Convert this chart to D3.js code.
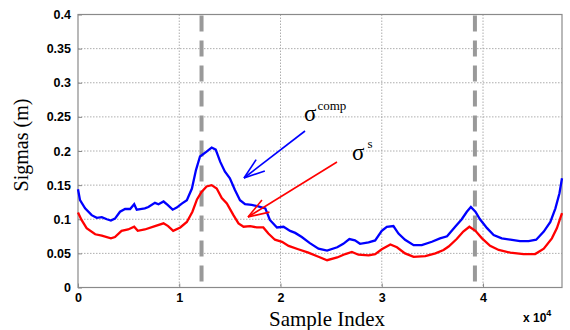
<!DOCTYPE html>
<html lang="en">
<head>
<meta charset="UTF-8">
<title>Sigmas</title>
<script src="https://cdn.jsdelivr.net/npm/d3@7"></script>
<style>
  body { margin: 0; background: #fff; }
  .tick text { font-family: "Liberation Sans", Arial, sans-serif; font-weight: bold; font-size: 12.5px; fill: #000; }
  .lbl { font-family: "Liberation Serif", "Times New Roman", serif; fill: #000; }
</style>
</head>
<body>
<script>
// sample indices + sigma values
var compIdx = [0, 200, 700, 1350, 1850, 2350, 2850, 3250, 3650, 4150, 4650, 5150, 5550, 5800, 6150, 6600, 6950, 7600, 7950, 8450, 8850, 9350, 9750, 10250, 10750, 11250, 11650, 12050, 12700, 13200, 13600, 14050, 14500, 15000, 15500, 16000, 16500, 17150, 17800, 18500, 18950, 19650, 20300, 20950, 21450, 22100, 22900, 23750, 24600, 25600, 26200, 26800, 27350, 27850, 28700, 29350, 30000, 30500, 31150, 31650, 32300, 33150, 33950, 34950, 35750, 36450, 37250, 37900, 38400, 38800, 39250, 39700, 40400, 41050, 41850, 42700, 43650, 44500, 45250, 46000, 46650, 47150, 47550, 47800];
var compVal = [0.144, 0.128, 0.116, 0.106, 0.102, 0.103, 0.100, 0.098, 0.101, 0.111, 0.115, 0.115, 0.122, 0.114, 0.115, 0.116, 0.118, 0.124, 0.122, 0.126, 0.121, 0.114, 0.117, 0.123, 0.128, 0.145, 0.172, 0.192, 0.199, 0.205, 0.202, 0.184, 0.170, 0.160, 0.143, 0.128, 0.122, 0.121, 0.119, 0.116, 0.099, 0.088, 0.089, 0.083, 0.080, 0.074, 0.065, 0.057, 0.054, 0.059, 0.064, 0.071, 0.069, 0.064, 0.066, 0.069, 0.083, 0.089, 0.090, 0.079, 0.070, 0.062, 0.062, 0.067, 0.072, 0.075, 0.089, 0.100, 0.111, 0.118, 0.111, 0.100, 0.087, 0.077, 0.072, 0.070, 0.068, 0.068, 0.070, 0.082, 0.096, 0.116, 0.138, 0.160];

var sIdx = [0, 350, 850, 1700, 2350, 3250, 3650, 4300, 4950, 5550, 5900, 6600, 7600, 8450, 8900, 9400, 10100, 10750, 11300, 11750, 12200, 12700, 13200, 13700, 14200, 14700, 15350, 15850, 16350, 17000, 17650, 18300, 18800, 19450, 20150, 20800, 21750, 22750, 23750, 24600, 25600, 26400, 27050, 27700, 28700, 29350, 30000, 30850, 31500, 32300, 33150, 34300, 35300, 36100, 36600, 37400, 38050, 38650, 39250, 39900, 40700, 41550, 42700, 44000, 45150, 46000, 46800, 47300, 47800];
var sVal = [0.110, 0.099, 0.087, 0.078, 0.076, 0.072, 0.074, 0.083, 0.085, 0.089, 0.083, 0.085, 0.090, 0.094, 0.090, 0.083, 0.088, 0.096, 0.111, 0.129, 0.140, 0.148, 0.150, 0.145, 0.131, 0.123, 0.106, 0.094, 0.089, 0.090, 0.088, 0.088, 0.079, 0.070, 0.067, 0.061, 0.056, 0.051, 0.045, 0.040, 0.044, 0.049, 0.052, 0.048, 0.047, 0.049, 0.056, 0.063, 0.059, 0.050, 0.045, 0.046, 0.050, 0.055, 0.060, 0.071, 0.082, 0.089, 0.083, 0.072, 0.061, 0.055, 0.051, 0.049, 0.049, 0.057, 0.072, 0.087, 0.109];

var markers = [12200, 39200];        // dashed vertical lines
var xTicks = [0, 10000, 20000, 30000, 40000];
var xTickLabels = ["0", "1", "2", "3", "4"];
var yTicks = [0, 0.05, 0.1, 0.15, 0.2, 0.25, 0.3, 0.35, 0.4];
var yTickLabels = ["0", "0.05", "0.1", "0.15", "0.2", "0.25", "0.3", "0.35", "0.4"];

var W = 570, H = 330;
var L = 78, R = 562, T = 14.5, B = 287.5;

var svg = d3.select("body").append("svg")
    .attr("width", W).attr("height", H);

var x = d3.scaleLinear().domain([0, 47800]).range([L, R]);
var y = d3.scaleLinear().domain([0, 0.4]).range([B, T]);

// grid
svg.append("g")
    .selectAll("line.gx").data(xTicks.slice(1)).enter()
    .append("line")
    .attr("x1", d => x(d)).attr("x2", d => x(d))
    .attr("y1", T).attr("y2", B)
    .attr("stroke", "#999").attr("stroke-width", 0.8)
    .attr("stroke-dasharray", "1.5,1.5");
svg.append("g")
    .selectAll("line.gy").data(yTicks.slice(1, -1)).enter()
    .append("line")
    .attr("x1", L).attr("x2", R)
    .attr("y1", d => y(d)).attr("y2", d => y(d))
    .attr("stroke", "#999").attr("stroke-width", 0.8)
    .attr("stroke-dasharray", "1.5,1.5");

// box
svg.append("rect")
    .attr("x", L).attr("y", T)
    .attr("width", R - L).attr("height", B - T)
    .attr("fill", "none").attr("stroke", "#8a8a8a").attr("stroke-width", 1.2);

// axes
var xAxis = d3.axisBottom(x).tickValues(xTicks)
    .tickFormat((d, i) => xTickLabels[i]).tickSize(-4).tickPadding(6);
svg.append("g").attr("transform", "translate(0," + B + ")").call(xAxis)
    .call(g => g.select(".domain").remove())
    .call(g => g.selectAll("line").attr("stroke", "#8a8a8a"));

var yAxis = d3.axisLeft(y).tickValues(yTicks)
    .tickFormat((d, i) => yTickLabels[i]).tickSize(-4).tickPadding(7);
svg.append("g").attr("transform", "translate(" + L + ",0)").call(yAxis)
    .call(g => g.select(".domain").remove())
    .call(g => g.selectAll("line").attr("stroke", "#8a8a8a"));

// dashed markers
svg.selectAll("line.mk").data(markers).enter()
    .append("line")
    .attr("x1", d => x(d)).attr("x2", d => x(d))
    .attr("y1", T + 1).attr("y2", B)
    .attr("stroke", "#999").attr("stroke-width", 4)
    .attr("stroke-dasharray", "16,9");

// series
var line = d3.line().x(d => x(d[0])).y(d => y(d[1]));
svg.append("path")
    .datum(sIdx.map((d, i) => [d, sVal[i]]))
    .attr("d", line).attr("fill", "none")
    .attr("stroke", "#f00").attr("stroke-width", 2.3);
svg.append("path")
    .datum(compIdx.map((d, i) => [d, compVal[i]]))
    .attr("d", line).attr("fill", "none")
    .attr("stroke", "#00f").attr("stroke-width", 2.3);

// annotation arrows
function arrow(x1, y1, x2, y2, col) {
    var a = Math.atan2(y2 - y1, x2 - x1), len = 22, sp = 0.33;
    var g = svg.append("g").attr("stroke", col).attr("stroke-width", 1.6).attr("fill", "none");
    g.append("line").attr("x1", x1).attr("y1", y1).attr("x2", x2).attr("y2", y2);
    [a + sp, a - sp].forEach(b => {
        g.append("line").attr("x1", x2).attr("y1", y2)
            .attr("x2", x2 - len * Math.cos(b)).attr("y2", y2 - len * Math.sin(b));
    });
}
arrow(305, 131, 244, 178, "#00f");
arrow(337, 162, 248, 217, "#f00");

svg.append("text").attr("class", "lbl").attr("x", 304).attr("y", 121)
    .attr("font-size", 23).text("σ")
    .append("tspan").attr("font-size", 13).attr("dy", -11).attr("dx", 1).text("comp");
svg.append("text").attr("class", "lbl").attr("x", 352).attr("y", 160)
    .attr("font-size", 23).text("σ")
    .append("tspan").attr("font-size", 13).attr("dy", -12).attr("dx", 3).text("s");

// axis labels
svg.append("text").attr("class", "lbl")
    .attr("x", 327).attr("y", 326).attr("text-anchor", "middle")
    .attr("font-size", 21).text("Sample Index");
svg.append("text").attr("class", "lbl")
    .attr("transform", "translate(28,145) rotate(-90)")
    .attr("text-anchor", "middle").attr("font-size", 20).text("Sigmas (m)");

svg.append("text")
    .attr("x", 523).attr("y", 322)
    .attr("font-family", "Liberation Sans, Arial, sans-serif")
    .attr("font-weight", "bold").attr("font-size", 12).text("x 10")
    .append("tspan").attr("font-size", 9).attr("dy", -6).text("4");
</script>
</body>
</html>
